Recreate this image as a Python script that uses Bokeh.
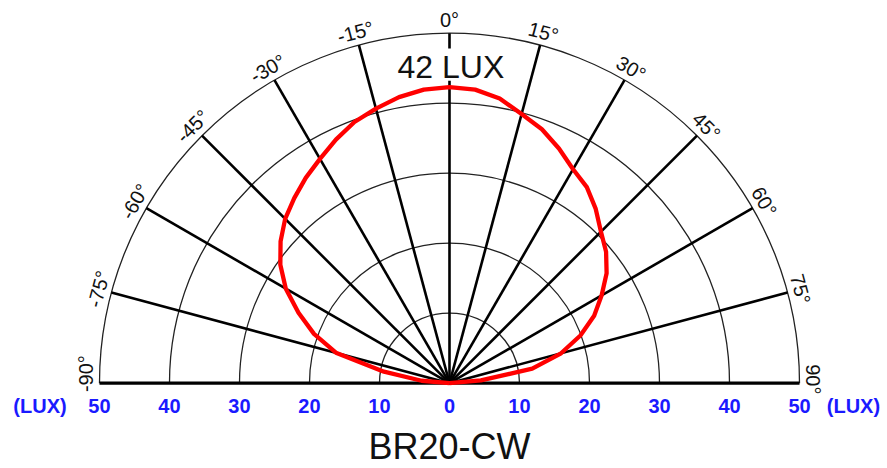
import numpy as np
from bokeh.plotting import figure
from bokeh.models import Range1d
from bokeh.core.properties import value
from bokeh.embed import file_html
from bokeh.resources import INLINE

# ---- data ----
ring_values = [10, 20, 30, 40, 50]
spoke_angles = [-75, -60, -45, -30, -15, 0, 15, 30, 45, 60, 75]
angle_ticks = [-90, -75, -60, -45, -30, -15, 0, 15, 30, 45, 60, 75, 90]
angle_labels = ["-90°", "-75°", "-60°", "-45°", "-30°", "-15°", "0°",
                "15°", "30°", "45°", "60°", "75°", "90°"]
lux_ticks = [-50, -40, -30, -20, -10, 0, 10, 20, 30, 40, 50]
lux_tick_labels = ["50", "40", "30", "20", "10", "0", "10", "20", "30", "40", "50"]
curve_angles = [-90, -85, -80, -75, -70, -65, -60, -55, -50, -45, -40, -35, -30,
                -25, -20, -15, -10, -5, 0, 5, 10, 15, 20, 25, 30, 35, 40, 45,
                50, 55, 60, 65, 70, 75, 80, 85, 90]
curve_lux = [0, 4.0, 9.5, 16.8, 20.6, 23.8, 27.0, 29.5, 31.5, 33.2, 34.5, 35.8, 37.0,
             38.4, 39.7, 40.6, 41.5, 42.1, 42.3, 42.1, 41.3, 39.8, 38.6, 37.0, 35.3,
             34.2, 32.5, 30.6, 29.2, 27.4, 25.1, 22.8, 19.9, 16.5, 12.0, 4.5, 0]
peak_label = "42 LUX"
unit_label = "(LUX)"
title_text = "BR20-CW"
r_max = 50

# small tangential nudges of the end labels (layout only)
label_nudge = [1.5, 0, 0, 0, 0, 0, 0, 0, 0, 0, 0, 0, -0.6]

FONT = value("Liberation Sans")

p = figure(width=887, height=468,
           x_range=Range1d(-64.14, 62.57), y_range=Range1d(-12.19, 54.67),
           output_backend="svg", toolbar_location=None,
           x_axis_location=None, y_axis_location=None, min_border=0)
for g in p.grid:
    g.visible = False
p.outline_line_color = None
p.background_fill_color = "white"
p.border_fill_color = "white"

# rings
p.arc(x=[0] * len(ring_values), y=[0] * len(ring_values), radius=ring_values,
      start_angle=0, end_angle=np.pi, line_color="#222222", line_width=1.3)

# spokes
sa = np.radians(spoke_angles)
p.segment(x0=[0] * len(sa), y0=[0] * len(sa), x1=r_max * np.sin(sa), y1=r_max * np.cos(sa),
          line_color="black", line_width=2.6)
# baseline (-90 .. 90)
p.segment(x0=[-r_max], y0=[0], x1=[r_max], y1=[0], line_color="black", line_width=3.3)

# peak label with white background
p.quad(left=[-1.6], right=[1.6], bottom=[43.2], top=[47.8], fill_color="white", line_color=None)
p.text(x=[0.2], y=[45.1], text=[peak_label], text_font=FONT, text_font_size="32px",
       text_align="center", text_baseline="alphabetic", text_color="#111111")

# candela curve
ca = np.radians(curve_angles)
cl = np.array(curve_lux)
p.line(x=cl * np.sin(ca), y=cl * np.cos(ca), line_color="#ff0000", line_width=4.3,
       line_join="round")

# angle labels
ta = np.radians(angle_ticks)
tp = np.radians(np.array(angle_ticks) + np.array(label_nudge))
lr = 51.9
p.text(x=lr * np.sin(tp), y=lr * np.cos(tp), text=angle_labels, angle=-ta,
       text_font=FONT, text_font_size="20px", text_align="center",
       text_baseline="alphabetic", text_color="#111111")

# lux tick labels
p.text(x=lux_ticks, y=[-3.3] * len(lux_ticks), text=lux_tick_labels,
       text_font=FONT, text_font_size="20px", text_font_style="bold",
       text_align="center", text_baseline="alphabetic", text_color="#1a1aff")
p.text(x=[-58.5, 57.7], y=[-3.3, -3.3], text=[unit_label, unit_label],
       text_font=FONT, text_font_size="20px", text_font_style="bold",
       text_align="center", text_baseline="alphabetic", text_color="#1a1aff")

# title
p.text(x=[0], y=[-9.1], text=[title_text], text_font=FONT, text_font_size="36px",
       text_align="center", text_baseline="alphabetic", text_color="#111111")

open("out.html", "w").write(file_html(p, INLINE))
